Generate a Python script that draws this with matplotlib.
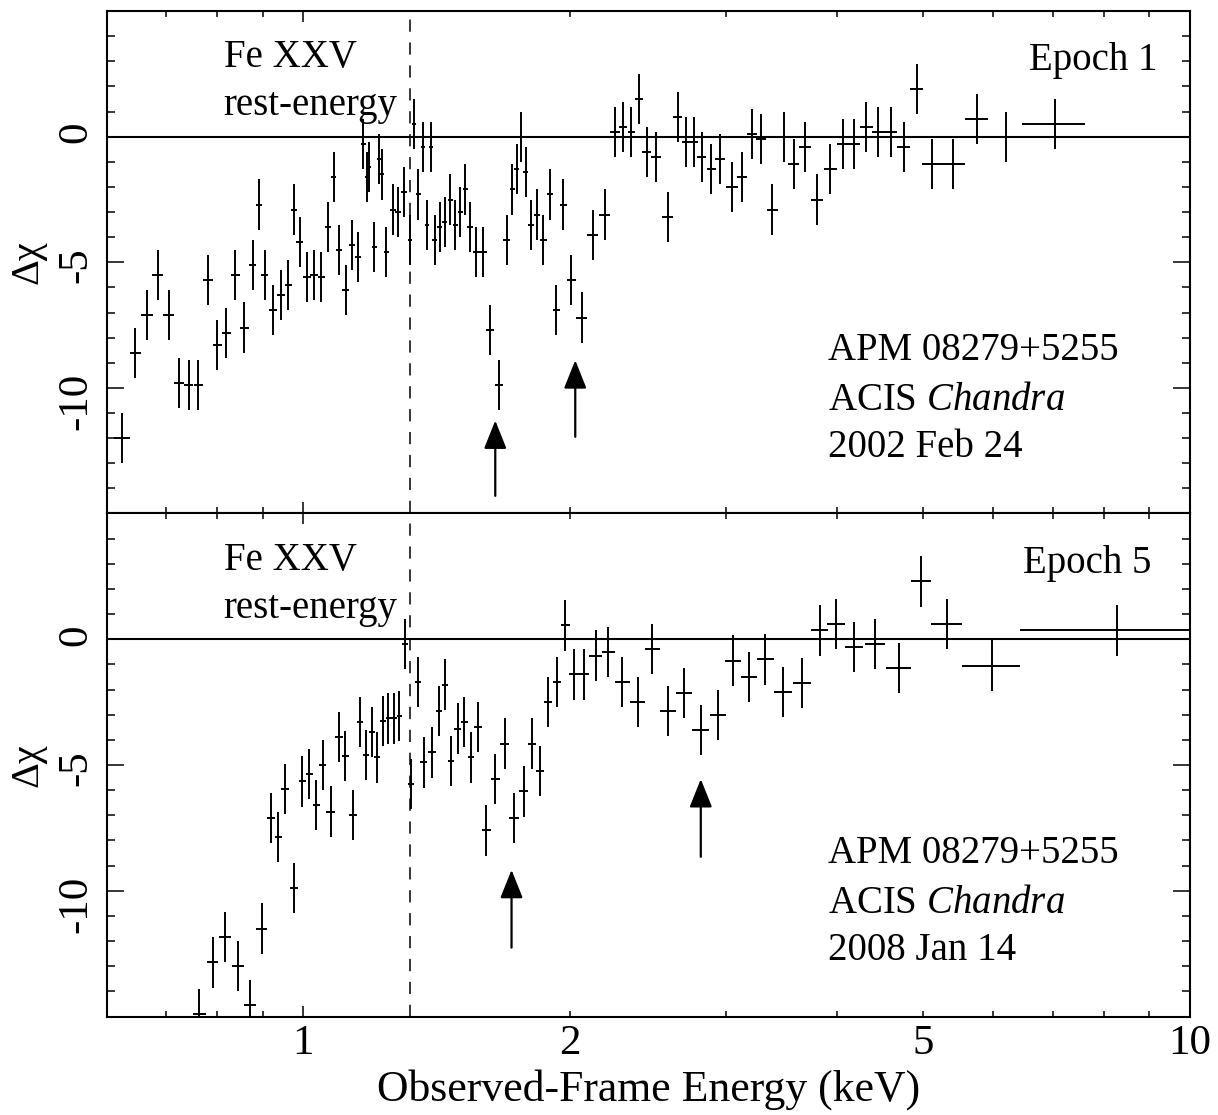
import matplotlib
matplotlib.use("Agg")
import matplotlib.pyplot as plt
from matplotlib.ticker import FixedLocator, MultipleLocator, FuncFormatter

# Residuals (delta chi) of the two Chandra epochs of APM 08279+5255
# energy = bin centre (keV), half_width = half bin width (keV)

top_energy = [0.6246, 0.6463, 0.6662, 0.6855, 0.7047, 0.7232, 0.7421, 0.7615, 0.7801, 0.7999,
              0.8187, 0.8380, 0.8578, 0.8764, 0.8901, 0.9040, 0.9237, 0.9430, 0.9612, 0.9762,
              0.9905, 1.0096, 1.0281, 1.0477, 1.0668, 1.0815, 1.0968, 1.1156, 1.1343, 1.1529,
              1.1688, 1.1792, 1.1871, 1.2026, 1.2173, 1.2258, 1.2405, 1.2612, 1.2787, 1.2986,
              1.3189, 1.3316, 1.3476, 1.3640, 1.3771, 1.3925, 1.4059, 1.4253, 1.4440, 1.4639,
              1.4829, 1.5022, 1.5218, 1.5416, 1.5657, 1.5943, 1.6251, 1.6605, 1.6952, 1.7203,
              1.7396, 1.7609, 1.7806, 1.8051, 1.8353, 1.8654, 1.8961, 1.9292, 1.9645, 2.0056,
              2.0597, 2.1192, 2.1861, 2.2473, 2.2943, 2.3441, 2.3895, 2.4393, 2.4988, 2.5757,
              2.6451, 2.6983, 2.7547, 2.8146, 2.8861, 2.9488, 3.0441, 3.1271, 3.2056, 3.2847,
              3.3794, 3.4796, 3.5737, 3.6806, 3.7966, 3.9296, 4.0566, 4.1813, 4.3165, 4.4528,
              4.5977, 4.7551, 4.9177, 5.118, 5.409, 5.748, 6.197, 7.04]
top_half_width = [.0134, .0095, .0098, .0098, .0095, .0094, .0096, .0095, .0097, .0095,
                  .0095, .0098, .0095, .0082, .0069, .0084, .0098, .0093, .0085, .0073,
                  .0085, .0094, .0096, .0098, .0086, .0076, .0085, .0092, .0094, .0086,
                  .0067, .0046, .0058, .0075, .0060, .0057, .0087, .0095, .0093, .0101,
                  .0082, .0072, .0080, .0074, .0071, .0072, .0084, .0096, .0097, .0098,
                  .0096, .0097, .0098, .0108, .0130, .0148, .0168, .0172, .0149, .0111,
                  .0104, .0100, .0111, .0135, .0152, .0154, .0157, .0170, .0188, .0239,
                  .0282, .0312, .0322, .0273, .0243, .0236, .0241, .0271, .0343, .0366,
                  .0308, .0272, .0292, .0328, .0336, .0397, .0449, .0404, .0390, .0433,
                  .0490, .0486, .0499, .0552, .0619, .0651, .0630, .0649, .0681, .0703,
                  .0749, .0800, .0865, .128, .163, .176, .273, .573]
top_chi = [-12.0, -8.6, -7.1, -5.5, -7.1, -9.8, -9.9, -9.9, -5.7, -8.3,
           -7.8, -5.5, -7.6, -5.1, -2.7, -5.5, -6.9, -6.3, -5.9, -2.9,
           -4.2, -5.6, -5.5, -5.6, -3.6, -1.6, -4.5, -6.1, -4.3, -4.8,
           -0.3, -1.6, -1.2, -4.4, -0.9, -1.5, -4.6, -2.9, -3.0, -2.2,
           -4.1, 0.5, -2.3, -0.4, -3.5, -0.4, -4.1, -3.6, -3.4, -2.5,
           -3.5, -3.0, -2.1, -3.6, -4.6, -4.6, -7.7, -9.9, -4.1, -2.1,
           -1.3, 0.0, -1.4, -3.5, -3.1, -4.1, -2.3, -6.9, -2.7, -5.7,
           -7.2, -3.9, -3.1, 0.2, 0.4, 0.2, 1.5, -0.6, -0.8, -3.2,
           0.8, -0.2, -0.2, -0.8, -1.3, -0.9, -2.0, -1.6, 0.1, -0.1,
           -2.9, 0.0, -1.1, -0.4, -2.5, -1.3, -0.3, -0.3, 0.4, 0.2,
           0.2, -0.4, 1.9, -1.1, -1.1, 0.7, 0.0, 0.5]

bot_energy = [0.7635, 0.7902, 0.8166, 0.8430, 0.8703, 0.8970, 0.9189, 0.9366, 0.9538, 0.9762,
              0.9974, 1.0156, 1.0342, 1.0512, 1.0732, 1.0968, 1.1148, 1.1372, 1.1589, 1.1770,
              1.1945, 1.2110, 1.2300, 1.2470, 1.2654, 1.2829, 1.3020, 1.3234, 1.3465, 1.3675,
              1.3961, 1.4216, 1.4428, 1.4665, 1.4933, 1.5194, 1.5456, 1.5738, 1.6084, 1.6463,
              1.6863, 1.7291, 1.7713, 1.8117, 1.8494, 1.8882, 1.9327, 1.9746, 2.0196, 2.0725,
              2.1356, 2.2087, 2.2902, 2.3833, 2.4749, 2.5774, 2.6886, 2.8072, 2.9335, 3.0551,
              3.1810, 3.3187, 3.4770, 3.6553, 3.8226, 3.9882, 4.1782, 4.4114, 4.6940, 4.979,
              5.320, 5.985, 8.264]
bot_half_width = [.0124, .0117, .0127, .0131, .0135, .0123, .0100, .0087, .0099, .0109,
                  .0098, .0092, .0088, .0098, .0114, .0102, .0101, .0109, .0099, .0088,
                  .0087, .0088, .0089, .0090, .0092, .0093, .0098, .0110, .0111, .0124,
                  .0134, .0118, .0112, .0125, .0131, .0130, .0136, .0155, .0183, .0196,
                  .0209, .0215, .0206, .0197, .0191, .0210, .0215, .0220, .0246, .0290,
                  .0343, .0389, .0438, .0462, .0487, .0533, .0570, .0617, .0607, .0632,
                  .0658, .0730, .0810, .0851, .0841, .0908, .1005, .1141, .156, .129,
                  .213, .451, 1.83]
bot_chi = [-14.9, -12.85, -11.85, -13.0, -14.55, -11.5, -7.1, -7.85, -5.95, -9.9,
           -5.65, -5.35, -6.6, -5.0, -6.85, -3.9, -4.65, -7.0, -3.3, -4.6,
           -3.7, -4.7, -3.25, -3.15, -3.15, -3.05, -0.2, -5.75, -1.7, -4.9,
           -4.5, -2.85, -1.8, -4.85, -3.55, -3.3, -4.7, -3.5, -7.6, -5.55,
           -4.15, -7.1, -6.05, -4.15, -5.25, -2.5, -1.7, 0.55, -1.4, -1.4,
           -0.65, -0.5, -1.7, -2.5, -0.4, -2.85, -2.15, -3.6, -3.0, -0.85,
           -1.5, -0.8, -2.1, -1.75, 0.35, 0.6, -0.3, -0.2, -1.15, 2.3,
           0.6, -1.05, 0.35]

chi_err = 1.0          # residuals are in units of sigma
fe_line = 1.32         # Fe XXV rest-energy, observed frame (keV)

# absorption features marked with arrows: energy, tail, tip
top_arrows = [(1.646, -14.3, -11.3), (2.026, -11.95, -8.9)]
bot_arrows = [(1.717, -12.26, -9.17), (2.807, -8.65, -5.56)]

plt.rcParams['font.family'] = ['Liberation Serif', 'DejaVu Serif']
plt.rcParams['mathtext.fontset'] = 'custom'
plt.rcParams['mathtext.rm'] = 'Liberation Serif'
plt.rcParams['mathtext.it'] = 'Liberation Serif:italic'
plt.rcParams['axes.unicode_minus'] = False

fig = plt.figure(figsize=(12.18, 11.15), dpi=100)
left, width = 0.0876, 0.8894
ax_top = fig.add_axes([left, 0.5395, width, 0.4505])
ax_bot = fig.add_axes([left, 0.0883, width, 0.4512])


def x_label_fmt(val, pos):
    if round(val, 3) in (1, 2, 5, 10):
        return "%g" % val
    return ""


def draw_panel(ax, energy, half_width, chi, epoch, epoch_x, date, arrows):
    ax.errorbar(energy, chi, xerr=half_width, yerr=chi_err, fmt='none',
                ecolor='black', elinewidth=1.4, capsize=0)
    ax.axhline(0, color='black', lw=1.5)
    ax.axvline(fe_line, color='black', lw=1.1, linestyle=(0, (8, 7)))
    for e, y0, y1 in arrows:
        ax.annotate('', xy=(e, y1), xytext=(e, y0),
                    arrowprops=dict(arrowstyle='-|>,head_length=0.7,head_width=0.28',
                                    mutation_scale=25, lw=1.6, color='black',
                                    shrinkA=0, shrinkB=0))

    ax.set_xscale('log')
    ax.set_xlim(0.6, 10)
    ax.set_ylim(-15, 5)
    ax.xaxis.set_major_locator(FixedLocator([1, 10]))
    ax.xaxis.set_minor_locator(FixedLocator([0.7, 0.8, 0.9, 2, 3, 4, 5, 6, 7, 8, 9]))
    ax.xaxis.set_major_formatter(FuncFormatter(x_label_fmt))
    ax.xaxis.set_minor_formatter(FuncFormatter(x_label_fmt))
    ax.yaxis.set_major_locator(FixedLocator([-10, -5, 0]))
    ax.yaxis.set_minor_locator(MultipleLocator(1))

    ax.tick_params(which='both', direction='in', top=True, right=True, width=1.1)
    ax.tick_params(axis='x', which='major', length=8)
    ax.tick_params(axis='x', which='minor', length=4)
    ax.tick_params(axis='y', which='major', length=12)
    ax.tick_params(axis='y', which='minor', length=6)
    ax.tick_params(axis='y', labelsize=31, labelrotation=90, pad=8)
    ax.tick_params(axis='x', which='both', labelsize=31, pad=6)
    for s in ax.spines.values():
        s.set_linewidth(1.5)

    ax.set_ylabel('Δχ', fontsize=29)
    ax.yaxis.set_label_coords(-0.056, 0.5)

    ax.text(0.108, 0.888, 'Fe XXV', transform=ax.transAxes, fontsize=28, va='baseline')
    ax.text(0.108, 0.793, 'rest-energy', transform=ax.transAxes, fontsize=28, va='baseline')
    ax.text(epoch_x, 0.882, epoch, transform=ax.transAxes, fontsize=28,
            va='baseline', ha='right')
    ax.text(0.666, 0.306, 'APM 08279+5255', transform=ax.transAxes, fontsize=28, va='baseline')
    ax.text(0.666, 0.206, r'ACIS $\mathit{Chandra}$', transform=ax.transAxes,
            fontsize=28, va='baseline')
    ax.text(0.666, 0.112, date, transform=ax.transAxes, fontsize=28, va='baseline')


draw_panel(ax_top, top_energy, top_half_width, top_chi, 'Epoch 1', 0.970, '2002 Feb 24', top_arrows)
draw_panel(ax_bot, bot_energy, bot_half_width, bot_chi, 'Epoch 5', 0.964, '2008 Jan 14', bot_arrows)

ax_top.tick_params(axis='x', which='both', labelbottom=False)
ax_bot.set_xlabel('Observed-Frame Energy (keV)', fontsize=31.5, labelpad=4)

fig.savefig('out.png', dpi=100)
